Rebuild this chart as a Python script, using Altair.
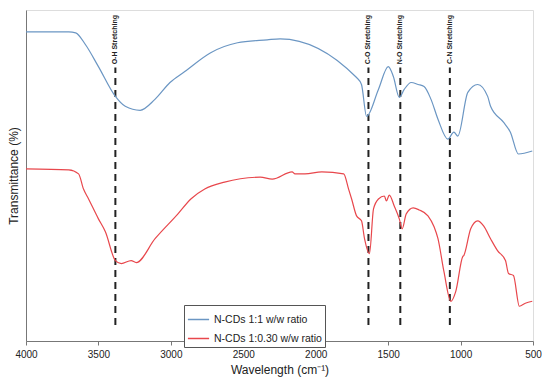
import altair as alt
import pandas as pd

# Blue series: N-CDs 1:1 w/w ratio
blue_wn = [4000, 3705, 3657, 3589, 3500, 3383, 3315, 3212, 3110, 3006, 2904, 2725, 2540, 2335,
           2246, 1718, 1684, 1649, 1567, 1499, 1464, 1423, 1389, 1341, 1293, 1252, 1204, 1156,
           1088, 1046, 1019, 950, 882, 813, 793, 704, 656, 601, 505]
blue_t = [93.4, 93.4, 93.1, 89.5, 82.9, 73.9, 70.9, 69.7, 73.0, 78.1, 81.4, 87.1, 90.1, 91.0,
          91.3, 79.6, 77.5, 67.9, 76.0, 82.9, 79.9, 73.6, 76.0, 78.1, 77.5, 76.9, 73.0, 67.0,
          61.0, 63.1, 61.9, 75.1, 77.5, 73.9, 70.9, 66.1, 63.1, 56.5, 57.4]

# Red series: N-CDs 1:0.30 w/w ratio
red_wn = [4000, 3705, 3637, 3603, 3568, 3500, 3452, 3383, 3342, 3274, 3239, 3109, 2951, 2862,
          2766, 2629, 2383, 2300, 2163, 2143, 2074, 1958, 1807, 1773, 1752, 1718, 1684, 1663,
          1629, 1601, 1567, 1526, 1512, 1492, 1458, 1423, 1403, 1375, 1327, 1286, 1225, 1183,
          1156, 1115, 1067, 1033, 985, 978, 930, 882, 841, 793, 745, 690, 669, 635, 594, 553, 505]
red_t = [52.0, 51.7, 50.5, 45.9, 42.9, 36.9, 33.0, 24.3, 23.4, 24.3, 23.7, 30.9, 38.4, 42.9,
         45.9, 48.0, 49.5, 48.9, 51.1, 50.5, 50.5, 51.1, 50.5, 45.9, 42.9, 37.8, 36.3, 30.9,
         26.4, 39.9, 42.9, 43.8, 42.3, 44.1, 40.8, 36.9, 33.9, 38.4, 40.2, 39.6, 37.8, 34.5,
         30.9, 21.0, 12.0, 15.0, 25.5, 25.8, 33.9, 36.3, 34.8, 30.9, 27.3, 24.3, 20.4, 19.8,
         10.5, 11.4, 12.0]

series_names = ["N-CDs 1:1 w/w ratio", "N-CDs 1:0.30 w/w ratio"]
series_colors = ["#6b96c3", "#e8474c"]

# Annotation lines
band_labels = ["O-H Stretching", "C-O Stretching", "N-O Stretching", "C-N Stretching"]
band_wn = [3383, 1636, 1416, 1074]
band_y0 = 4.8
band_y1 = 82.6
label_y = 98.5

x_ticks = [4000, 3500, 3000, 2500, 2000, 1500, 1000, 500]

FONT = "Liberation Sans"

df = pd.concat([
    pd.DataFrame({"wn": blue_wn, "t": blue_t, "series": series_names[0], "order": range(len(blue_wn))}),
    pd.DataFrame({"wn": red_wn, "t": red_t, "series": series_names[1], "order": range(len(red_wn))}),
])
bands = pd.DataFrame({"wn": band_wn, "label": band_labels, "y0": band_y0, "y1": band_y1, "ly": label_y})

xscale = alt.Scale(domain=[4000, 500], nice=False, zero=False)
yscale = alt.Scale(domain=[0, 100], nice=False, zero=False)

lines = alt.Chart(df).mark_line(strokeWidth=1.2, interpolate="monotone").encode(
    x=alt.X("wn:Q", scale=xscale,
            axis=alt.Axis(values=x_ticks, title="Wavelength (cm⁻¹)", format="d",
                          labelFont=FONT, labelFontSize=10, labelColor="#222",
                          titleFont=FONT, titleFontSize=12, titleFontWeight="normal",
                          titleColor="#222", titlePadding=5,
                          tickColor="#777", tickSize=4, domainColor="#777",
                          grid=False, labelPadding=4, labelFlush=False)),
    y=alt.Y("t:Q", scale=yscale,
            axis=alt.Axis(title="Transmittance (%)", labels=False, ticks=False, grid=False,
                          domainColor="#777", titleFont=FONT, titleFontSize=12,
                          titleFontWeight="normal", titleColor="#222", titlePadding=6)),
    color=alt.Color("series:N", scale=alt.Scale(domain=series_names, range=series_colors),
                    legend=alt.Legend(title=None, orient="none", legendX=158, legendY=295,
                                      symbolType="stroke", symbolSize=450, symbolStrokeWidth=1.5,
                                      labelFont=FONT, labelFontSize=10.5, labelColor="#222",
                                      strokeColor="#555", padding=3, rowPadding=2,
                                      fillColor="white", labelLimit=300)),
    order="order:Q",
)

rules = alt.Chart(bands).mark_rule(color="#222", strokeWidth=2, strokeDash=[7, 5]).encode(
    x="wn:Q", y="y0:Q", y2="y1:Q"
)

texts = alt.Chart(bands).mark_text(angle=270, align="right", baseline="middle",
                                   font=FONT, fontSize=7, fontWeight="bold", color="#222").encode(
    x="wn:Q", y="ly:Q", text="label:N"
)

chart = alt.layer(rules, lines, texts).properties(
    width=507, height=331,
    autosize=alt.AutoSizeParams(type="none"),
    padding={"left": 18, "top": 2, "right": 9, "bottom": 36},
).configure_view(stroke="#777", strokeWidth=1).configure(background="white")

chart.save("out.html", embed_options={"renderer": "svg", "actions": False})
